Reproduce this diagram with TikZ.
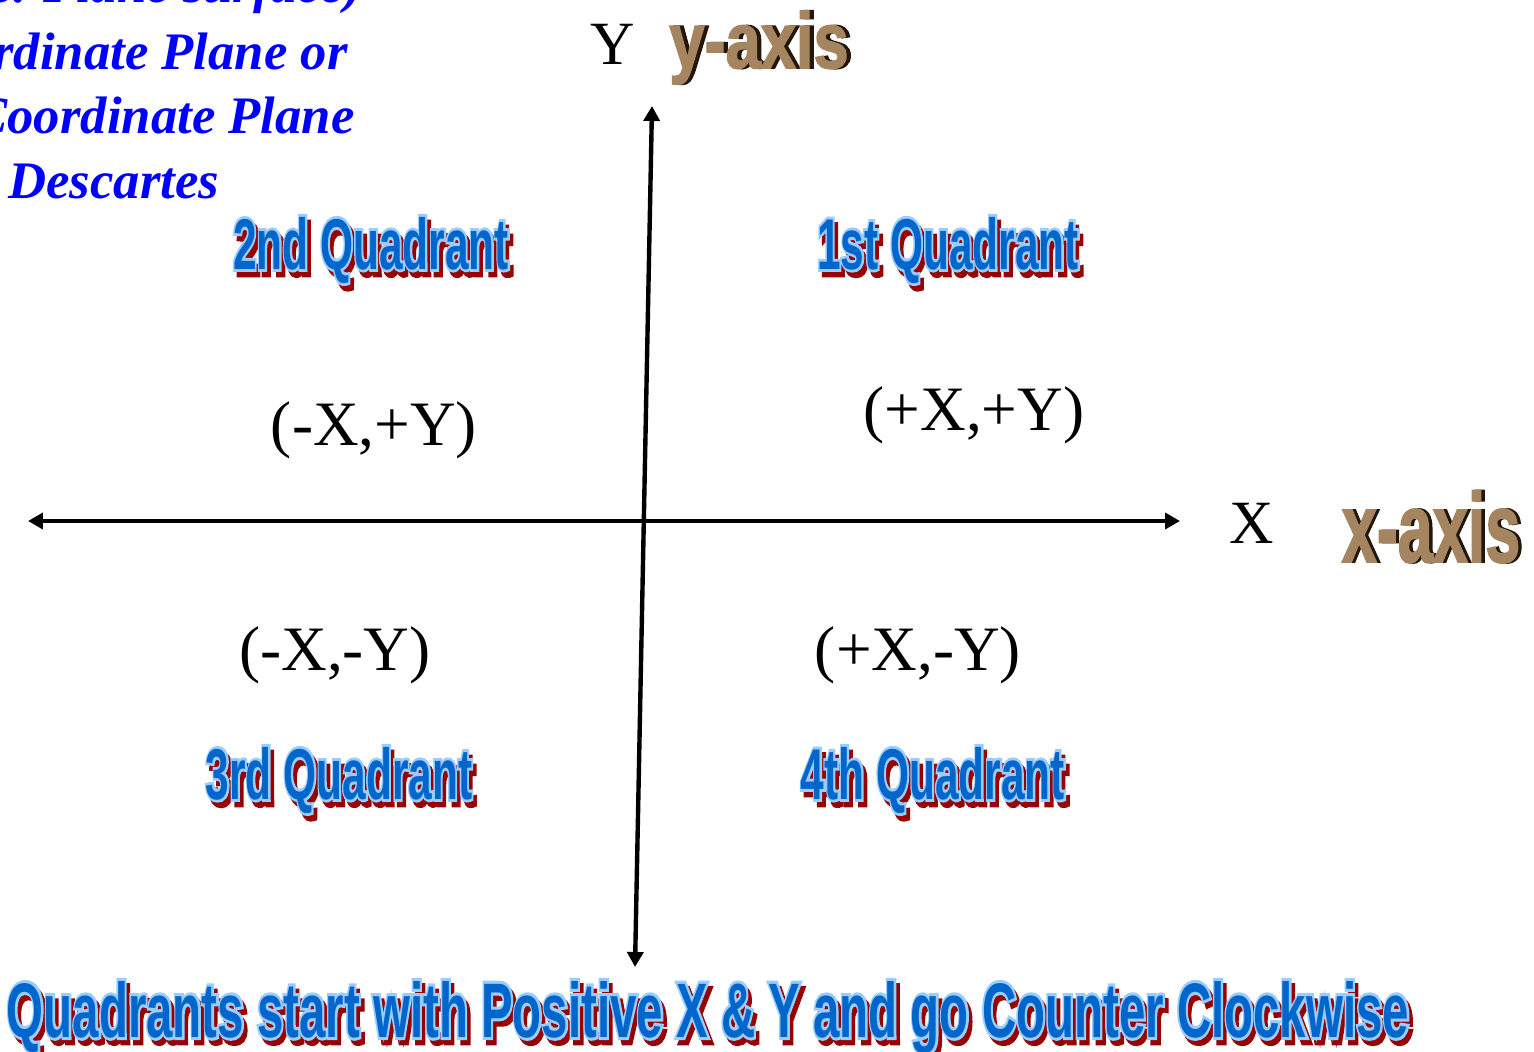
\documentclass[tikz,border=0pt]{standalone}
\usepackage{fontspec}
\usepackage{graphicx}
\setmainfont{Liberation Serif}
\newfontfamily\quadfont{Liberation Sans Bold}
\newfontfamily\quadedge{Liberation Sans Bold}[FakeBold=8]
\newfontfamily\axisfont{Liberation Sans Bold}[FakeBold=2]
\usetikzlibrary{arrows.meta}
\definecolor{planeblue}{RGB}{0,0,255}
\definecolor{quadfill}{RGB}{0,102,204}
\definecolor{quadrim}{RGB}{153,204,255}
\definecolor{quadshade}{RGB}{153,0,0}
\definecolor{axistan}{RGB}{165,132,96}
\definecolor{axisdark}{RGB}{36,22,8}
% word-art style labels: x stretch, y stretch, text
\newcommand{\quadart}[3]{\scalebox{#1}[#2]{%
  \rlap{\hspace{3pt}\raisebox{-2.7pt}{\color{quadshade}\quadedge #3}}%
  \rlap{\color{quadrim}\quadedge #3}%
  {\color{quadfill}\quadfont #3}}}
\newcommand{\axisart}[2]{\scalebox{#1}[1]{%
  \rlap{\hspace{3pt}\color{axisdark}\axisfont #2}%
  {\color{axistan}\axisfont #2}}}

\begin{document}
\begin{tikzpicture}[
    x=0.02cm, y=-0.02cm,
    >={Triangle[length=0.3cm, width=0.32cm]},
    axis/.style={<->, line width=2.5pt},
    coordlbl/.style={font=\fontsize{36}{40}\selectfont, inner sep=0pt},
    axisname/.style={font=\fontsize{35}{40}\selectfont, inner sep=0pt},
    quadlbl/.style={font=\fontsize{35}{40}\selectfont, inner sep=0pt, anchor=base},
    planetxt/.style={font=\fontsize{30}{36}\selectfont\bfseries\itshape,
                     text=planeblue, inner sep=0pt},
]
\useasboundingbox (0,0) rectangle (1534,1051);
\clip (0,0) rectangle (1534,1051);

% title text, cut at the left edge
\node[planetxt, anchor=base east] (plane1) at (362,3) {e. Plane surface)};
\node[planetxt, anchor=base east] (plane2) at (348,70) {rdinate Plane or};
\node[planetxt, anchor=base east] (plane3) at (355,133) {Coordinate Plane};
\node[planetxt, anchor=base west] (plane4) at (8,198) {Descartes};

% axes
\coordinate (ytop) at (652,106);
\coordinate (ybot) at (635,967);
\coordinate (xleft) at (28,521);
\coordinate (xright) at (1180,521);
\draw[axis] (ybot) -- (ytop);
\draw[axis] (xleft) -- (xright);

\node[axisname] (ylbl) at (613,44) {Y};
\node[axisname] (xlbl) at (1252,523) {X};
\node[inner sep=0pt, anchor=base, font=\fontsize{45}{50}\selectfont] (yname) at (759,68)
    {\axisart{0.8}{y-axis}};
\node[inner sep=0pt, anchor=base, font=\fontsize{56}{60}\selectfont] (xname) at (1431,562)
    {\axisart{0.64}{x-axis}};

% signs in each quadrant
\node[coordlbl] (pp) at (974,415) {(+X,+Y)};
\node[coordlbl] (mp) at (374,430) {(-X,+Y)};
\node[coordlbl] (mm) at (335,655) {(-X,-Y)};
\node[coordlbl] (pm) at (918,655) {(+X,-Y)};

\node[quadlbl] (q1) at (948,269) {\quadart{0.69}{1.17}{1st Quadrant}};
\node[quadlbl] (q2) at (371,269) {\quadart{0.69}{1.17}{2nd Quadrant}};
\node[quadlbl] (q3) at (339,799) {\quadart{0.69}{1.17}{3rd Quadrant}};
\node[quadlbl] (q4) at (933,799) {\quadart{0.69}{1.17}{4th Quadrant}};

\node[quadlbl, font=\fontsize{40}{46}\selectfont] (rule) at (708,1037)
    {\quadart{0.675}{1.1}{Quadrants start with Positive X \& Y and go Counter Clockwise}};

\end{tikzpicture}
\end{document}
